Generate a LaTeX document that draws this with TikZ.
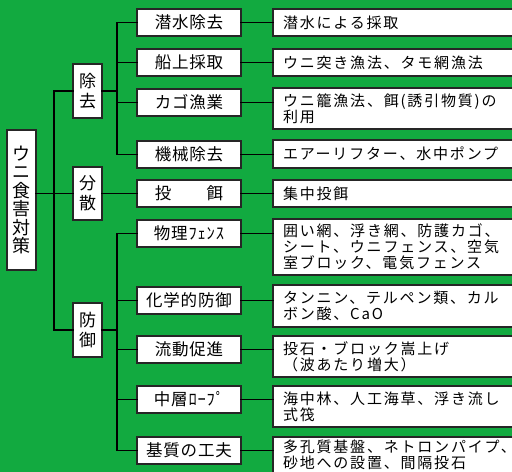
\documentclass[tikz,border=0pt]{standalone}
\usepackage{fontspec}
\setmainfont{Noto Sans CJK JP}
\newfontfamily\fA[LetterSpace=12]{Noto Sans CJK JP}
\newfontfamily\fB[LetterSpace=5]{Noto Sans CJK JP}
\definecolor{bg}{RGB}{18,170,64}
\begin{document}
\begin{tikzpicture}[x=1bp,y=-1bp,
 box/.style={draw=black!85,line width=1.4bp,fill=white,inner sep=0pt,outer sep=0pt},
 rootbox/.style={box,minimum width=29bp,minimum height=140bp,align=center,font=\fontsize{18bp}{18.5bp}\selectfont},
 catbox/.style={box,minimum width=29bp,minimum height=54bp,align=center,font=\fontsize{17bp}{20bp}\selectfont},
 methbox/.style={box,minimum width=104bp,minimum height=27bp,font=\fB\fontsize{16.5bp}{18bp}\selectfont},
 descbox/.style={box,anchor=north west,text width=232bp,inner xsep=10bp,inner ysep=0pt,align=left,font=\fA\fontsize{15bp}{16bp}\selectfont},
 link/.style={line width=1.2bp,draw=black,line cap=rect}]
\fill[bg] (0,0) rectangle (512,472);
\useasboundingbox (0,0) rectangle (512,472);
\clip (0,0) rectangle (512,472);

% root and categories
\node[rootbox] (root) at (21.5,200) {ウ\\ニ\\食\\害\\対\\策};
\node[catbox] (rem) at (87.5,91) {除\\去};
\node[catbox,minimum height=53bp] (dis) at (87.5,193.5) {分\\散};
\node[catbox] (def) at (87.5,330) {防\\御};

% methods
\node[methbox] (m1) at (189,22.5) {潜水除去};
\node[methbox] (m2) at (189,62.5) {船上採取};
\node[methbox] (m3) at (189,102.5) {カゴ漁業};
\node[methbox] (m4) at (189,154.5) {機械除去};
\node[methbox] (m5) at (189,193.5) {投　　餌};
\node[methbox] (m6) at (189,233.5) {物理ﾌｪﾝｽ};
\node[methbox] (m7) at (189,300.5) {化学的防御};
\node[methbox] (m8) at (189,349.5) {流動促進};
\node[methbox] (m9) at (189,399.5) {中層ﾛｰﾌﾟ};
\node[methbox] (m10) at (189,450.5) {基質の工夫};

% descriptions
\node[descbox,minimum height=27bp] (d1) at (273,9) {潜水による採取};
\node[descbox,minimum height=27bp] (d2) at (273,49) {ウニ突き漁法、タモ網漁法};
\node[descbox,minimum height=41bp] (d3) at (273,88) {ウニ籠漁法、餌(誘引物質)の\\利用};
\node[descbox,minimum height=28bp] (d4) at (273,140) {エアーリフター、水中ポンプ};
\node[descbox,minimum height=27bp] (d5) at (273,180) {集中投餌};
\node[descbox,minimum height=56bp] (d6) at (273,219) {囲い網、浮き網、防護カゴ、\\シート、ウニフェンス、空気\\室ブロック、電気フェンス};
\node[descbox,minimum height=42bp] (d7) at (273,285) {タンニン、テルペン類、カル\\ボン酸、CaO};
\node[descbox,minimum height=41bp] (d8) at (273,336) {投石・ブロック嵩上げ\\（波あたり増大）};
\node[descbox,minimum height=41bp] (d9) at (273,386) {海中林、人工海草、浮き流し\\式筏};
\node[descbox,minimum height=36bp] (d10) at (273,437) {多孔質基盤、ネトロンパイプ、\\砂地への設置、間隔投石};

% connectors
\coordinate (tA) at (54,0);
\coordinate (tB) at (117,0);
\draw[link] (root.east |- dis.west) -- (dis.west);
\draw[link] (rem.west) -- (tA |- rem.west) -- (tA |- def.west) -- (def.west);
\draw[link] (rem.east) -- (tB |- rem.east);
\draw[link] (m1.west) -- (tB |- m1.west) -- (tB |- m4.west) -- (m4.west);
\draw[link] (tB |- m2.west) -- (m2.west);
\draw[link] (tB |- m3.west) -- (m3.west);
\draw[link] (dis.east) -- (m5.west);
\draw[link] (def.east) -- (tB |- def.east);
\draw[link] (m6.west) -- (tB |- m6.west) -- (tB |- m10.west) -- (m10.west);
\draw[link] (tB |- m7.west) -- (m7.west);
\draw[link] (tB |- m8.west) -- (m8.west);
\draw[link] (tB |- m9.west) -- (m9.west);
\foreach \i in {1,...,10} \draw[link] (m\i.east) -- (m\i.east -| d\i.west);
\end{tikzpicture}
\end{document}
